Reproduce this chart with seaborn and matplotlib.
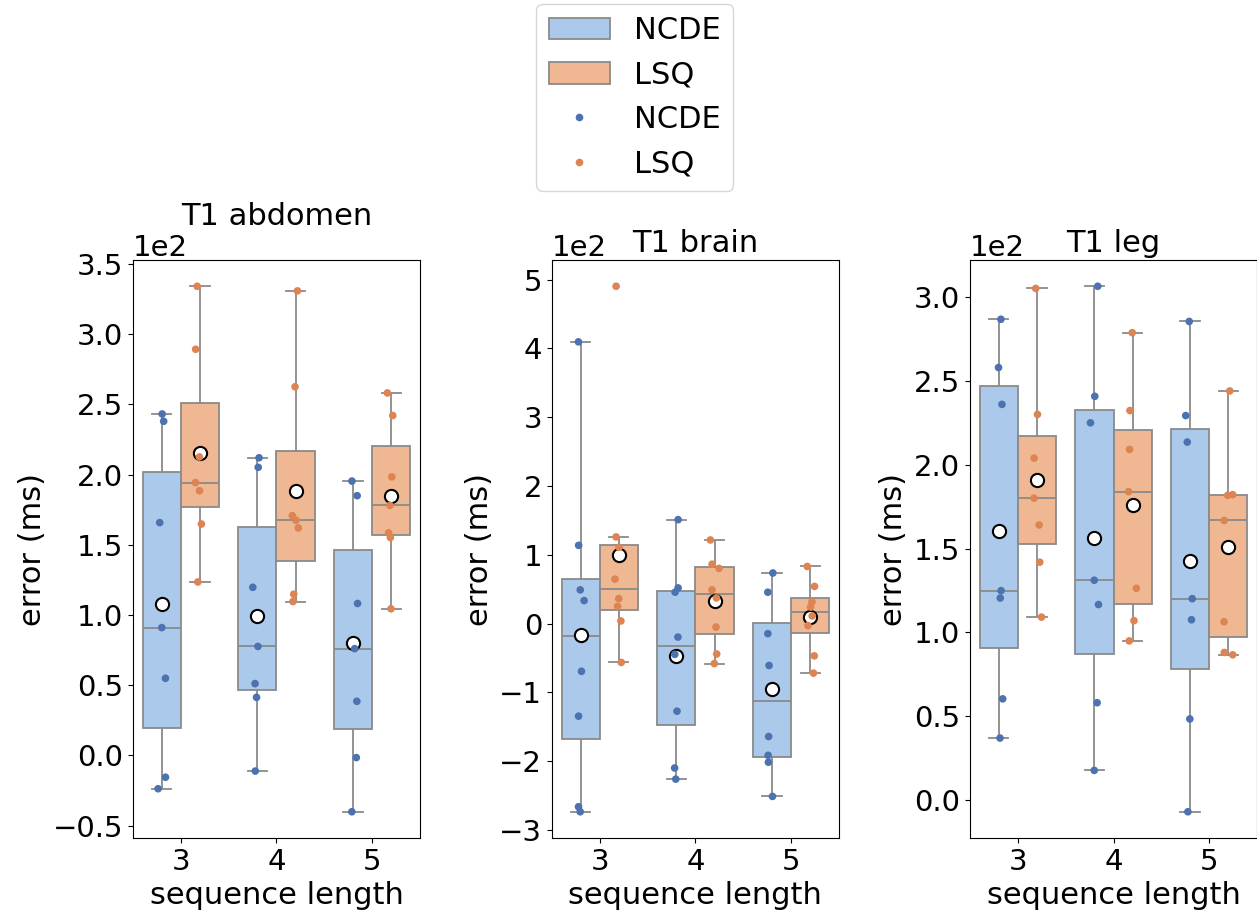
import numpy as np
import pandas as pd
import matplotlib
matplotlib.use('Agg')
import matplotlib.pyplot as plt
import seaborn as sns

matplotlib.rcParams.update({'font.size': 21, 'axes.labelsize': 22,
                            'axes.titlesize': 22, 'legend.fontsize': 22})

seq_lengths = [3, 4, 5]
methods = ['NCDE', 'LSQ']
titles = ['T1 abdomen', 'T1 brain', 'T1 leg']

# error (ms), one list per sequence length (3, 4, 5)
abdomen_ncde = [[243.2, 238.0, 165.8, 91.0, 54.9, -15.6, -23.8],
                [212.0, 205.2, 119.7, 77.6, 51.1, 41.3, -11.2],
                [195.4, 185.0, 108.2, 76.0, 38.5, -1.6, -40.2]]
abdomen_lsq = [[334.2, 289.3, 212.6, 194.3, 188.5, 164.8, 123.5],
               [330.9, 262.6, 170.8, 167.5, 162.0, 114.8, 109.6],
               [258.2, 242.1, 198.4, 178.1, 158.5, 155.2, 104.4]]

brain_ncde = [[409.4, 113.8, 49.1, 33.5, -69.2, -134.4, -266.0, -273.3],
              [151.1, 51.9, 45.7, -19.5, -44.6, -127.2, -209.7, -225.9],
              [73.6, 45.7, -14.5, -60.8, -164.0, -191.3, -201.3, -251.0]]
brain_lsq = [[490.2, 126.0, 111.0, 64.7, 36.3, 25.1, 3.9, -56.3],
             [121.6, 86.4, 80.3, 49.1, 37.4, -5.0, -44.1, -58.0],
             [83.1, 54.1, 31.8, 24.0, 11.2, -2.8, -46.8, -71.9]]

leg_ncde = [[286.9, 258.1, 236.1, 124.9, 120.5, 60.3, 36.9],
            [306.6, 240.9, 225.1, 131.1, 116.6, 58.0, 17.6],
            [285.6, 229.4, 213.6, 120.1, 107.5, 48.3, -7.1]]
leg_lsq = [[305.3, 230.1, 204.0, 180.1, 164.1, 141.9, 109.1],
           [278.9, 232.4, 209.2, 184.0, 126.3, 107.0, 94.9],
           [244.1, 182.2, 181.8, 166.8, 106.3, 88.0, 86.6]]

panels = [(abdomen_ncde, abdomen_lsq), (brain_ncde, brain_lsq), (leg_ncde, leg_lsq)]


def to_frame(ncde, lsq):
    rows = []
    for method, per_len in zip(methods, [ncde, lsq]):
        for length, vals in zip(seq_lengths, per_len):
            for v in vals:
                rows.append({'sequence length': length, 'error (ms)': v, 'method': method})
    return pd.DataFrame(rows)


np.random.seed(3)
fig = plt.figure(figsize=(12.57, 9.19), dpi=100)
lefts = [0.1058, 0.4391, 0.7717]
axes = [fig.add_axes([l, 0.0881, 0.2283, 0.629]) for l in lefts]

meanprops = {'marker': 'o', 'markerfacecolor': 'white', 'markeredgecolor': 'black',
             'markersize': 9.5, 'markeredgewidth': 1.5}

for ax, title, (ncde, lsq) in zip(axes, titles, panels):
    df = to_frame(ncde, lsq)
    sns.boxplot(data=df, x='sequence length', y='error (ms)', hue='method',
                palette='pastel', showmeans=True, meanprops=meanprops,
                showfliers=False, linewidth=1.3, linecolor='#8a8a8a', ax=ax)
    sns.stripplot(data=df, x='sequence length', y='error (ms)', hue='method',
                  palette='deep', dodge=True, size=5.5, ax=ax)
    ax.ticklabel_format(axis='y', style='sci', scilimits=(0, 0))
    ax.set_title(title)

handles, labels = axes[0].get_legend_handles_labels()
for ax in axes:
    if ax.get_legend() is not None:
        ax.get_legend().remove()
fig.legend(handles, labels, loc='upper center', bbox_to_anchor=(0.505, 1.012))

plt.savefig('out.png', dpi=100)
